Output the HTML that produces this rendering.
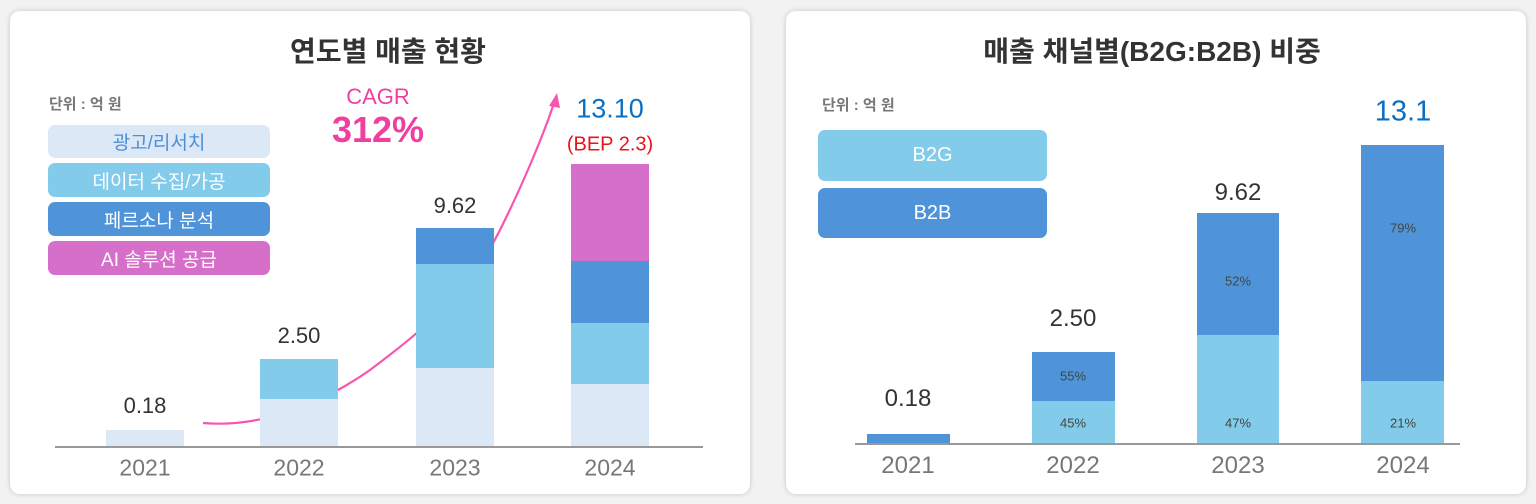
<!DOCTYPE html>
<html><head><meta charset="utf-8"><style>
html,body{margin:0;padding:0;width:1536px;height:504px;background:#f2f2f2;overflow:hidden}
body{font-family:"Liberation Sans","Noto Sans CJK KR",sans-serif}
.card{position:absolute;background:#fff;border-radius:10px;box-shadow:0 0 6px rgba(0,0,0,.18)}
.t{position:absolute;white-space:nowrap;transform:translate(-50%,-50%)}
.b{position:absolute}
.lg{position:absolute;border-radius:7px;display:flex;align-items:center;justify-content:center;font-size:19px;color:#fff}
</style></head><body>
<div class="card" style="left:10px;top:11px;width:740px;height:483px"></div>
<div class="card" style="left:786px;top:11px;width:740px;height:483px"></div>

<!-- LEFT -->
<div class="t" style="left:388px;top:50px;font-size:28px;font-weight:bold;color:#333">연도별 매출 현황</div>
<div style="position:absolute;left:49px;top:93px;font-size:15px;font-weight:bold;color:#777">단위 : 억 원</div>
<div class="lg" style="left:48px;top:125px;width:222px;height:33px;background:#dce8f6;color:#4a90d9">광고/리서치</div>
<div class="lg" style="left:48px;top:163px;width:222px;height:34px;background:#82cbea">데이터 수집/가공</div>
<div class="lg" style="left:48px;top:202px;width:222px;height:34px;background:#4f94d8">페르소나 분석</div>
<div class="lg" style="left:48px;top:241px;width:222px;height:34px;background:#d56fc9">AI 솔루션 공급</div>
<div class="t" style="left:378px;top:97px;font-size:22px;color:#f03fa0">CAGR</div>
<div class="t" style="left:378px;top:130px;font-size:36px;font-weight:bold;color:#f03fa0">312%</div>

<svg style="position:absolute;left:0;top:0" width="768" height="504">
<path d="M203 423 C260 428 320 405 370 370 C430 325 470 290 500 230 C525 180 545 130 553 106" fill="none" stroke="#f755b0" stroke-width="2.2"/>
<polygon points="557,93 549,106 560,108" fill="#f755b0"/>
</svg>

<div class="b" style="left:106px;top:430px;width:78px;height:17px;background:#dce8f6"></div>
<div class="b" style="left:260px;top:359px;width:78px;height:40px;background:#82cbea"></div>
<div class="b" style="left:260px;top:399px;width:78px;height:48px;background:#dce8f6"></div>
<div class="b" style="left:416px;top:228px;width:78px;height:36px;background:#4f94d8"></div>
<div class="b" style="left:416px;top:264px;width:78px;height:104px;background:#82cbea"></div>
<div class="b" style="left:416px;top:368px;width:78px;height:79px;background:#dce8f6"></div>
<div class="b" style="left:571px;top:164px;width:78px;height:97px;background:#d56fc9"></div>
<div class="b" style="left:571px;top:261px;width:78px;height:62px;background:#4f94d8"></div>
<div class="b" style="left:571px;top:323px;width:78px;height:61px;background:#82cbea"></div>
<div class="b" style="left:571px;top:384px;width:78px;height:63px;background:#dce8f6"></div>
<div class="b" style="left:55px;top:446px;width:648px;height:2px;background:#999"></div>

<div class="t" style="left:145px;top:406px;font-size:22px;color:#333">0.18</div>
<div class="t" style="left:299px;top:336px;font-size:22px;color:#333">2.50</div>
<div class="t" style="left:455px;top:206px;font-size:22px;color:#333">9.62</div>
<div class="t" style="left:610px;top:109px;font-size:27px;color:#0a6fc2">13.10</div>
<div class="t" style="left:610px;top:145px;font-size:20px;color:#e8141c">(BEP 2.3)</div>
<div class="t" style="left:145px;top:468px;font-size:23px;color:#777">2021</div>
<div class="t" style="left:299px;top:468px;font-size:23px;color:#777">2022</div>
<div class="t" style="left:455px;top:468px;font-size:23px;color:#777">2023</div>
<div class="t" style="left:610px;top:468px;font-size:23px;color:#777">2024</div>

<!-- RIGHT -->
<div class="t" style="left:1152px;top:50px;font-size:28px;font-weight:bold;color:#333">매출 채널별(B2G:B2B) 비중</div>
<div style="position:absolute;left:822px;top:94px;font-size:15px;font-weight:bold;color:#777">단위 : 억 원</div>
<div class="lg" style="left:818px;top:130px;width:229px;height:51px;background:#82cbea;font-size:20px">B2G</div>
<div class="lg" style="left:818px;top:188px;width:229px;height:50px;background:#4f94d8;font-size:20px">B2B</div>

<div class="b" style="left:867px;top:434px;width:83px;height:10px;background:#4f94d8"></div>
<div class="b" style="left:1032px;top:352px;width:83px;height:49px;background:#4f94d8"></div>
<div class="b" style="left:1032px;top:401px;width:83px;height:42px;background:#82cbea"></div>
<div class="b" style="left:1197px;top:213px;width:82px;height:122px;background:#4f94d8"></div>
<div class="b" style="left:1197px;top:335px;width:82px;height:109px;background:#82cbea"></div>
<div class="b" style="left:1361px;top:145px;width:83px;height:236px;background:#4f94d8"></div>
<div class="b" style="left:1361px;top:381px;width:83px;height:63px;background:#82cbea"></div>
<div class="b" style="left:855px;top:443px;width:605px;height:2px;background:#999"></div>

<div class="t" style="left:1073px;top:376px;font-size:13px;color:#444">55%</div>
<div class="t" style="left:1073px;top:423px;font-size:13px;color:#444">45%</div>
<div class="t" style="left:1238px;top:281px;font-size:13px;color:#444">52%</div>
<div class="t" style="left:1238px;top:423px;font-size:13px;color:#444">47%</div>
<div class="t" style="left:1403px;top:228px;font-size:13px;color:#444">79%</div>
<div class="t" style="left:1403px;top:423px;font-size:13px;color:#444">21%</div>

<div class="t" style="left:908px;top:399px;font-size:24px;color:#333">0.18</div>
<div class="t" style="left:1073px;top:319px;font-size:24px;color:#333">2.50</div>
<div class="t" style="left:1238px;top:193px;font-size:24px;color:#333">9.62</div>
<div class="t" style="left:1403px;top:112px;font-size:29px;color:#0a6fc2">13.1</div>
<div class="t" style="left:908px;top:466px;font-size:24px;color:#777">2021</div>
<div class="t" style="left:1073px;top:466px;font-size:24px;color:#777">2022</div>
<div class="t" style="left:1238px;top:466px;font-size:24px;color:#777">2023</div>
<div class="t" style="left:1403px;top:466px;font-size:24px;color:#777">2024</div>
</body></html>
